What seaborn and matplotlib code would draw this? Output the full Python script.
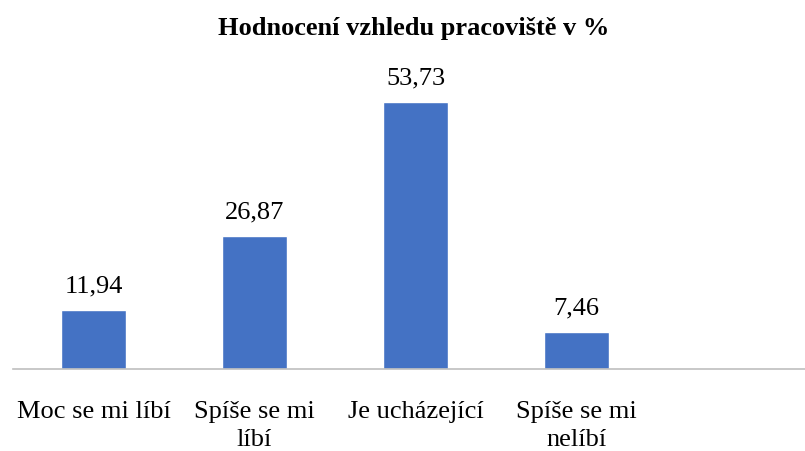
import matplotlib
matplotlib.use("Agg")
import matplotlib.pyplot as plt
import seaborn as sns
import pandas as pd

categories = ["Moc se mi líbí", "Spíše se mi\nlíbí", "Je ucházející", "Spíše se mi\nnelíbí"]
values = [11.94, 26.87, 53.73, 7.46]
value_labels = ["11,94", "26,87", "53,73", "7,46"]
title = "Hodnocení vzhledu pracoviště v %"

sns.set_theme(style="white")
plt.rcParams["font.family"] = ["Liberation Serif", "DejaVu Serif"]

df = pd.DataFrame({"cat": categories, "val": values})

fig = plt.figure(figsize=(8.05, 4.51), dpi=100)
ax = fig.add_axes([13/805, 1 - 369/451, 792/805, (369 - 71)/451])
sns.barplot(data=df, x="cat", y="val", color="#4472C4", width=0.4, saturation=1, ax=ax)

ax.set_xlim(-0.5, 4.42)
ax.set_ylim(0, 60)
ax.set_xlabel("")
ax.set_ylabel("")
ax.set_yticks([])
for s in ["top", "right", "left"]:
    ax.spines[s].set_visible(False)
ax.spines["bottom"].set_color("#BFBFBF")
ax.spines["bottom"].set_linewidth(1.2)
ax.tick_params(axis="x", length=0, pad=23, labelsize=19, colors="black")
for lbl in ax.get_xticklabels():
    lbl.set_linespacing(1.35)
    lbl.set_verticalalignment("top")

for i, (v, t) in enumerate(zip(values, value_labels)):
    ax.annotate(t, (i, v), xytext=(0, 9), textcoords="offset points",
                ha="center", va="bottom", fontsize=19, color="black")

fig.text(0.5 + 11/805, 1 - 28.5/451, title, ha="center", va="center",
         fontsize=19, fontweight="bold", color="black")

fig.savefig("out.png", dpi=100)
